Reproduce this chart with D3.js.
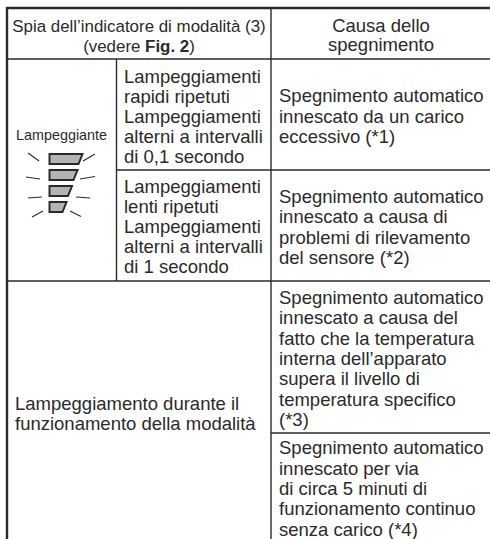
<!DOCTYPE html>
<html>
<head>
<meta charset="utf-8">
<script src="https://cdn.jsdelivr.net/npm/d3@7"></script>
<style>
  html, body { margin: 0; padding: 0; background: #fff; overflow: hidden; }
  text { font-family: "Liberation Sans", sans-serif; fill: #2b2a29; }
</style>
</head>
<body>
<div id="table"></div>
<script>
const width = 490, height = 539;

// table text
const headerMode = ["Spia dell\u2019indicatore di modalità (3)", "(vedere <b>Fig. 2</b>)"];
const headerCause = ["Causa dello", "spegnimento"];
const blinkLabel = ["Lampeggiante"];
const patternFast = ["Lampeggiamenti", "rapidi ripetuti", "Lampeggiamenti", "alterni a intervalli", "di 0,1 secondo"];
const patternSlow = ["Lampeggiamenti", "lenti ripetuti", "Lampeggiamenti", "alterni a intervalli", "di 1 secondo"];
const duringMode = ["Lampeggiamento durante il", "funzionamento della modalità"];
const causeOverload = ["Spegnimento automatico", "innescato da un carico", "eccessivo (*1)"];
const causeSensor = ["Spegnimento automatico", "innescato a causa di", "problemi di rilevamento", "del sensore (*2)"];
const causeTemp = ["Spegnimento automatico", "innescato a causa del", "fatto che la temperatura", "interna dell\u2019apparato", "supera il livello di", "temperatura specifico", "(*3)"];
const causeIdle = ["Spegnimento automatico", "innescato per via", "di circa 5 minuti di", "funzionamento continuo", "senza carico (*4)"];

// lamp segments, widest on top
const lampLevels = [4, 3, 2, 1];
const lampWidths = [33, 28, 22.5, 17];

const svg = d3.select("#table")
  .append("svg")
  .attr("width", width)
  .attr("height", height)
  .style("display", "block");

const ink = "#2b2a29";

// rules
const rules = [
  { x1: 7, y1: 8, x2: 490, y2: 8, w: 2.6 },
  { x1: 7, y1: 59, x2: 490, y2: 59, w: 1.4 },
  { x1: 116, y1: 170, x2: 490, y2: 170, w: 1.4 },
  { x1: 7, y1: 281, x2: 490, y2: 281, w: 1.4 },
  { x1: 271, y1: 433, x2: 490, y2: 433, w: 1.4 },
  { x1: 7, y1: 7, x2: 7, y2: 539, w: 2.4 },
  { x1: 116.5, y1: 59, x2: 116.5, y2: 281, w: 1.4 },
  { x1: 271, y1: 8, x2: 271, y2: 539, w: 1.4 }
];

svg.append("g")
  .selectAll("line")
  .data(rules)
  .join("line")
  .attr("x1", d => d.x1).attr("y1", d => d.y1)
  .attr("x2", d => d.x2).attr("y2", d => d.y2)
  .attr("stroke", ink)
  .attr("stroke-width", d => d.w);

// cells
const cells = [
  { lines: headerMode, x: 139, mid: 34, anchor: "middle", size: 16.9, lh: 19.8 },
  { lines: headerCause, x: 381, mid: 33.5, anchor: "middle", size: 18.5, lh: 19.8 },
  { lines: blinkLabel, x: 61.5, mid: 132, anchor: "middle", size: 14.4, lh: 20 },
  { lines: patternFast, x: 124, mid: 115, anchor: "start", size: 18.5, lh: 20.1 },
  { lines: patternSlow, x: 124, mid: 225, anchor: "start", size: 18.5, lh: 20.1 },
  { lines: duringMode, x: 15, mid: 412, anchor: "start", size: 18.5, lh: 19.8 },
  { lines: causeOverload, x: 279, mid: 114.5, anchor: "start", size: 18.5, lh: 20.4 },
  { lines: causeSensor, x: 279, mid: 225.5, anchor: "start", size: 18.5, lh: 20.4 },
  { lines: causeTemp, x: 279, mid: 357, anchor: "start", size: 18.5, lh: 20.3 },
  { lines: causeIdle, x: 279, mid: 487, anchor: "start", size: 18.5, lh: 20.3 }
];

svg.append("g")
  .selectAll("text")
  .data(cells)
  .join("text")
  .attr("text-anchor", d => d.anchor)
  .attr("font-size", d => d.size)
  .each(function (d) {
    d3.select(this)
      .selectAll("tspan")
      .data(d.lines)
      .join("tspan")
      .attr("x", d.x)
      .attr("y", (l, i) => d.mid + 8 + (i - (d.lines.length - 1) / 2) * d.lh)
      .html(l => l.replace(/<b>(.*)<\/b>/, '<tspan font-weight="bold">$1</tspan>'));
  });

// lamp icon
const lampY = d3.scaleBand().domain(lampLevels).range([154, 212]).paddingInner(0.375);
const lampX = d3.scaleLinear().domain([0, 33]).range([49.5, 82.5]);

const lamp = svg.append("g");

lamp.selectAll("path.seg")
  .data(lampLevels)
  .join("path")
  .attr("class", "seg")
  .attr("d", (d, i) => {
    const y = lampY(d), h = lampY.bandwidth(), w = lampWidths[i];
    return d3.line()([[lampX(0), y], [lampX(w), y], [lampX(w - 4), y + h], [lampX(0), y + h]]) + "Z";
  })
  .attr("fill", "#b3b3b3")
  .attr("stroke", ink)
  .attr("stroke-width", 2);

const rays = [
  [[28, 153], [39, 161]], [[26, 177], [40, 179]], [[28, 198], [42, 197]], [[32, 217], [43, 211]],
  [[83, 161], [95, 154]], [[80, 179], [95, 176.5]], [[76, 197], [90, 198]], [[70, 211], [81, 216.5]]
];

lamp.selectAll("line")
  .data(rays)
  .join("line")
  .attr("x1", d => d[0][0]).attr("y1", d => d[0][1])
  .attr("x2", d => d[1][0]).attr("y2", d => d[1][1])
  .attr("stroke", ink)
  .attr("stroke-width", 1.1);
</script>
</body>
</html>
